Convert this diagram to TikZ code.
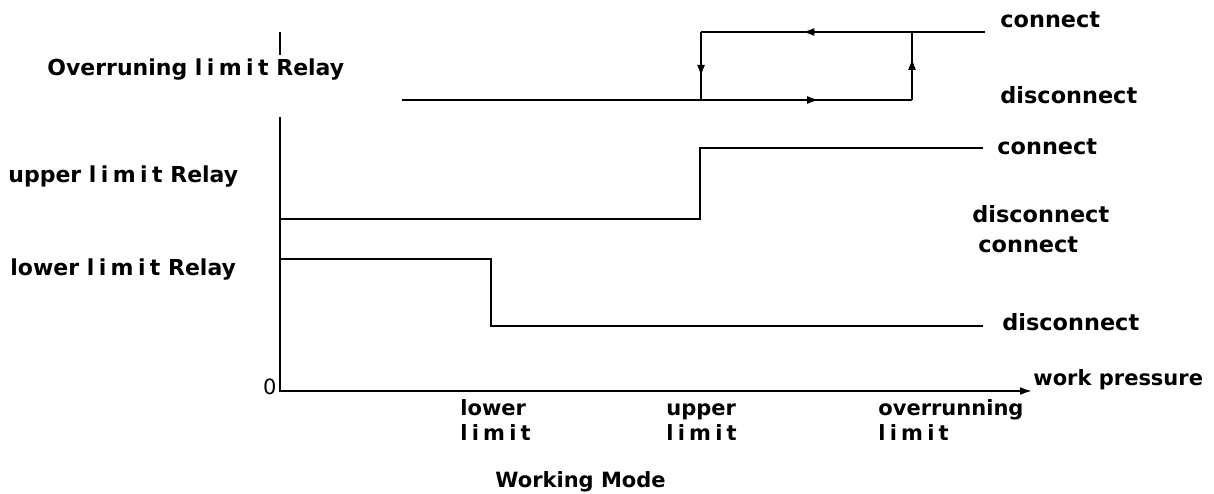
\documentclass[tikz,border=0pt]{standalone}
\usepackage{fontspec}
\setmainfont{DejaVu Sans}
\newfontfamily\spacedfont{DejaVu Sans}[LetterSpace=20]
\newcommand{\limword}{{\spacedfont limit}}
\usetikzlibrary{arrows.meta,decorations.markings}

\begin{document}
\begin{tikzpicture}[x=0.5pt, y=-0.5pt,
  every node/.style={font=\bfseries\fontsize{10.5}{12.5}\selectfont, inner sep=0pt},
  lbl/.style={anchor=west},
  state/.style={anchor=west, font=\bfseries\fontsize{11.2}{13}\selectfont},
  relayname/.style={anchor=west, font=\bfseries\fontsize{11}{13}\selectfont},
  tick/.style={anchor=north west, align=left, font=\bfseries\fontsize{10.5}{12.5}\selectfont},
  relay/.style={line width=1pt},
  flow/.style={postaction={decorate}, decoration={markings,
      mark=at position #1 with {\arrow{Latex[length=6pt,width=4pt]}}}},
]
\useasboundingbox (0,0) rectangle (1214,493);

% Left: relay names
\node[relayname] (ovname) at (47,70) {Overruning \limword{} Relay};
\node[relayname] (upname) at (8,177) {upper \limword{} Relay};
\node[relayname] (loname) at (10,270) {lower \limword{} Relay};

% Right: switch states
\node[state] (ovon)  at (1000,20)  {connect};
\node[state] (ovoff) at (1000,95)  {disconnect};
\node[state] (upon)  at (997,147)  {connect};
\node[state] (upoff) at (972,214)  {disconnect};
\node[state] (loon)  at (978,245)  {connect};
\node[state] (looff) at (1002,322) {disconnect};

% Axes
\coordinate (ytop) at (280,32);
\coordinate (ytopend) at (280,55);
\coordinate (yaxis) at (280,117);
\coordinate (origin) at (280,391);
\coordinate (xend) at (1032,391);
\draw[relay] (ytop) -- (ytopend);
\draw[relay, -{Latex[length=6pt,width=4pt]}] (yaxis) -- (origin) -- (xend);
\node[anchor=east, font=\fontsize{10.5}{12.5}\selectfont] (zero) at (277,387) {0};
\node[lbl] (press) at (1033,380) {work pressure};

% Overrunning limit relay (loop)
\coordinate (ovA) at (402,100);
\coordinate (ovB) at (701,100);
\coordinate (ovC) at (912,100);
\coordinate (ovD) at (912,32);
\coordinate (ovE) at (701,32);
\coordinate (ovF) at (985,32);
\draw[relay] (ovA) -- (ovB);
\draw[relay, flow=0.56] (ovB) -- (ovC);
\draw[relay, flow=0.62] (ovC) -- (ovD);
\draw[relay, flow=0.52] (ovD) -- (ovE);
\draw[relay, flow=0.66] (ovE) -- (ovB);
\draw[relay] (ovD) -- (ovF);

% Upper limit relay
\coordinate (upA) at (280,219);
\coordinate (upB) at (700,219);
\coordinate (upC) at (700,148);
\coordinate (upD) at (983,148);
\draw[relay] (upA) -- (upB) -- (upC) -- (upD);

% Lower limit relay
\coordinate (loA) at (280,259);
\coordinate (loB) at (491,259);
\coordinate (loC) at (491,326);
\coordinate (loD) at (983,326);
\draw[relay] (loA) -- (loB) -- (loC) -- (loD);

% Limits on the pressure axis
\node[tick] (lolim) at (460,398) {\strut lower\\\limword};
\node[tick] (uplim) at (666,398) {\strut upper\\\limword};
\node[tick] (ovlim) at (878,398) {\strut overrunning\\\limword};

\node[lbl] (mode) at (495,482) {Working Mode};
\end{tikzpicture}
\end{document}
